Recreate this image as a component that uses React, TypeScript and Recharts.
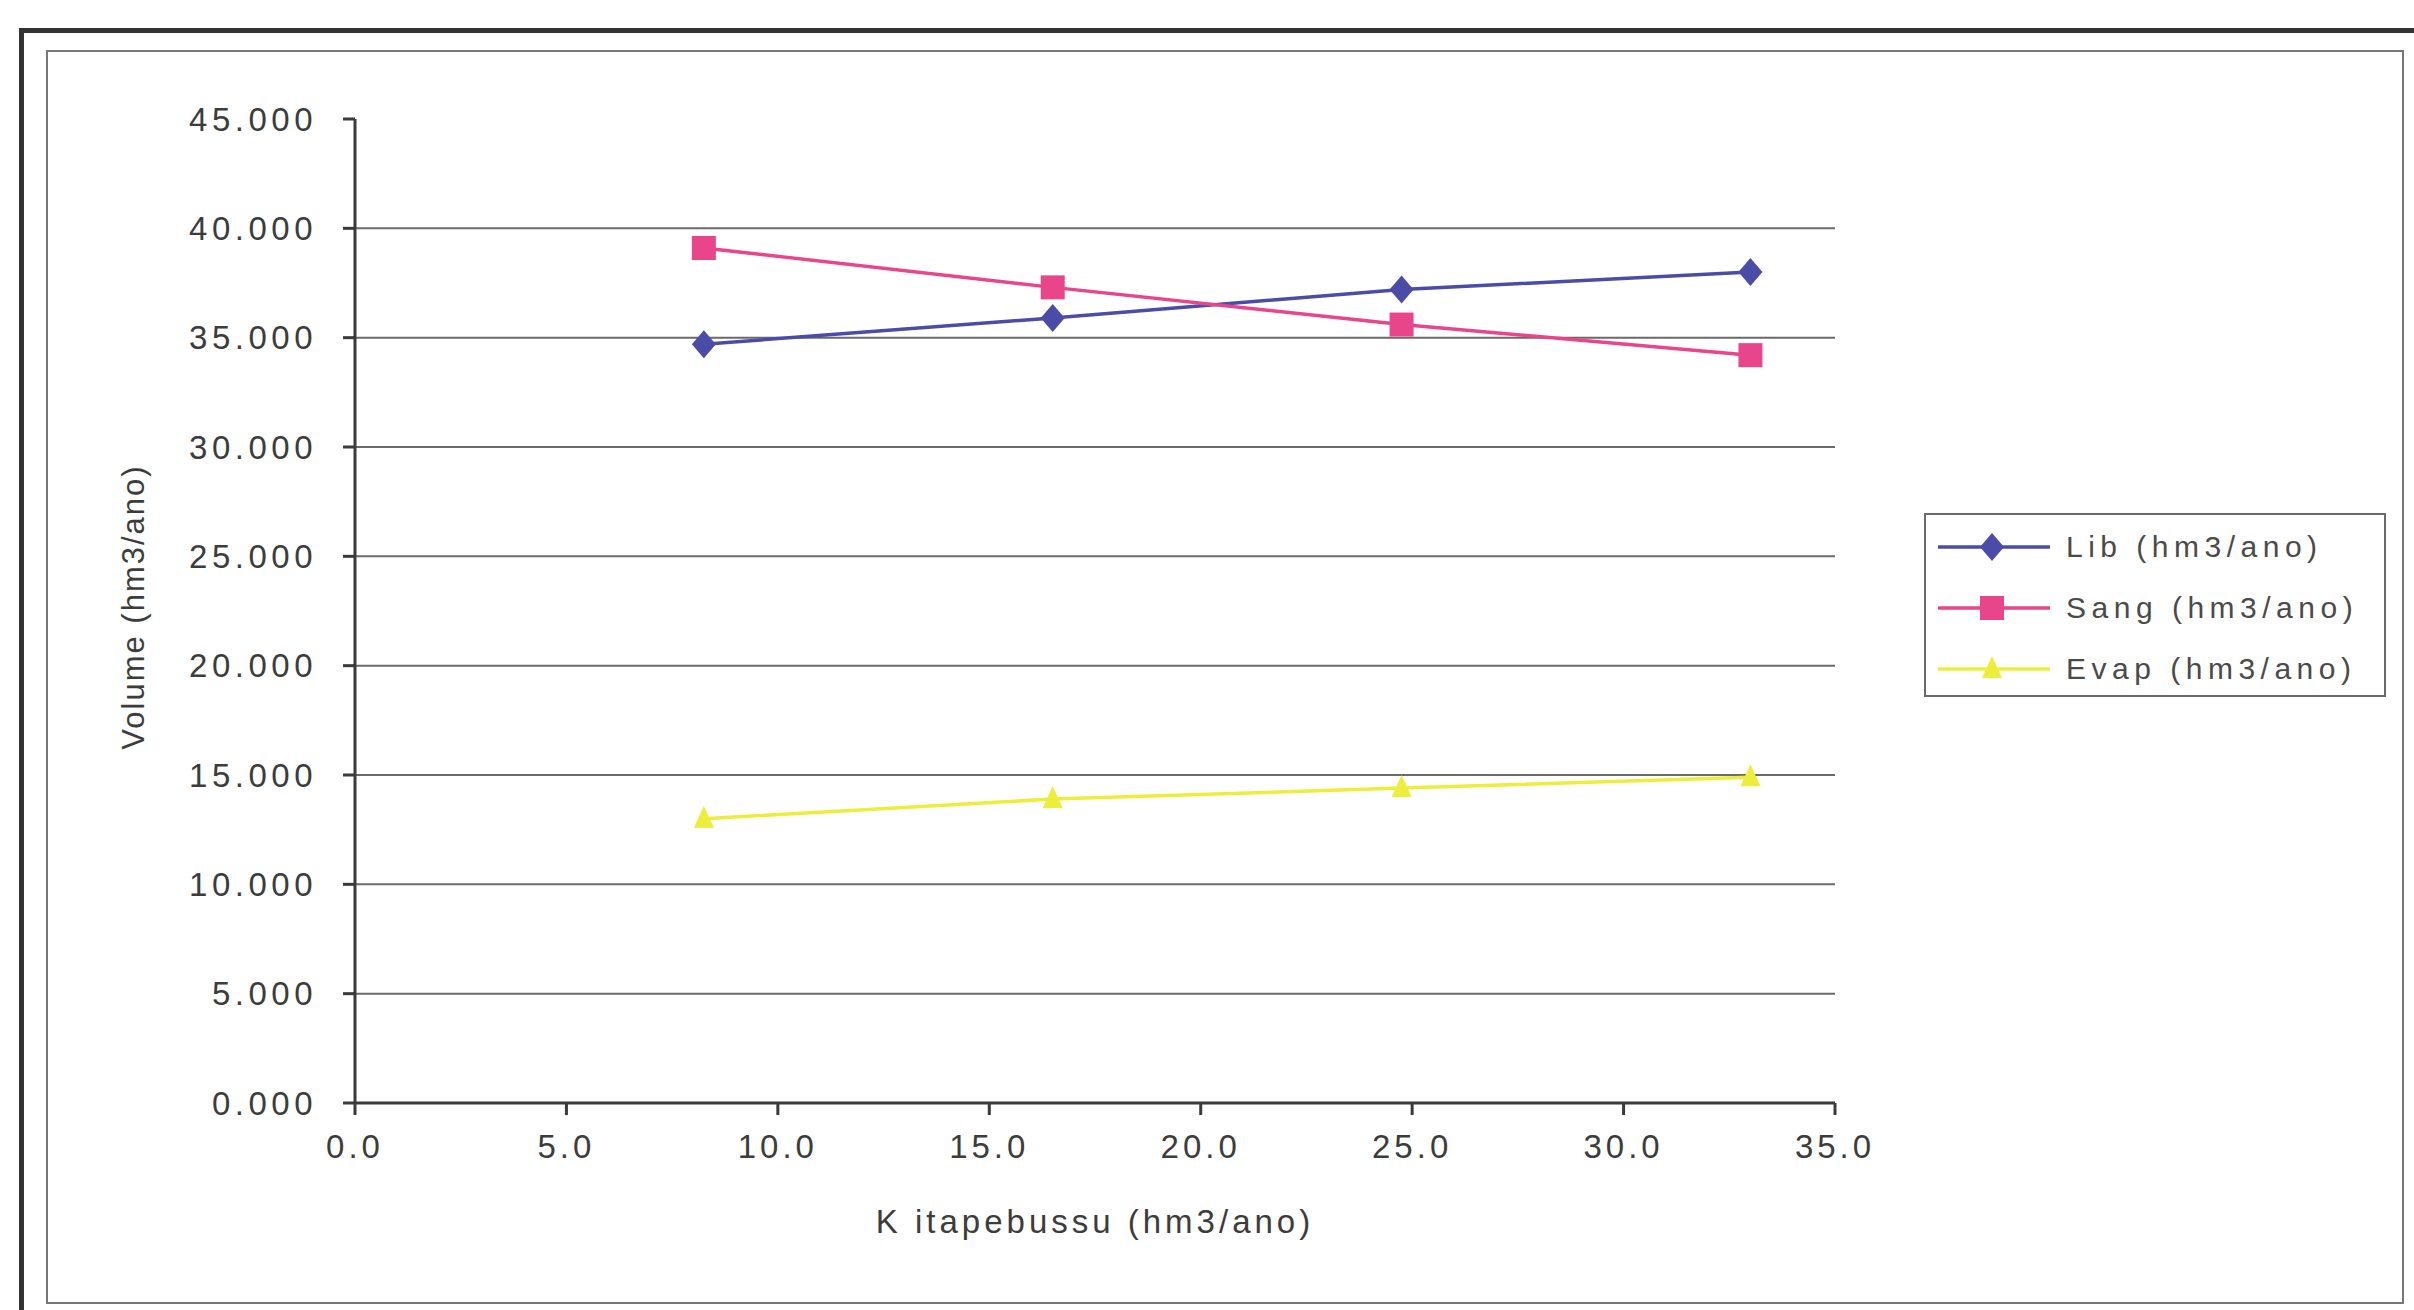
import { CartesianGrid, Label, Line, LineChart, XAxis, YAxis } from "recharts";

const kValues = [8.25, 16.5, 24.75, 33.0];
const libValues = [34700, 35900, 37200, 38000];
const sangValues = [39100, 37300, 35600, 34200];
const evapValues = [13000, 13900, 14400, 14900];

const xTicks = [0, 5, 10, 15, 20, 25, 30, 35];
const yTicks = [0, 5000, 10000, 15000, 20000, 25000, 30000, 35000, 40000, 45000];

const seriesNames = ["Lib (hm3/ano)", "Sang (hm3/ano)", "Evap (hm3/ano)"];
const seriesColors = ["#4b4ba8", "#e8458b", "#eded3c"];

const data = kValues.map((k, i) => ({
  k,
  lib: libValues[i],
  sang: sangValues[i],
  evap: evapValues[i],
}));

const FONT = "'Liberation Sans', Arial, sans-serif";
const TEXT = "#3c3c3c";

type Shape = "diamond" | "square" | "triangle";

function marker(shape: Shape, cx: number, cy: number, color: string, key?: string | number) {
  if (shape === "diamond") {
    return (
      <polygon key={key} points={`${cx},${cy - 14} ${cx + 12},${cy} ${cx},${cy + 14} ${cx - 12},${cy}`} fill={color} />
    );
  }
  if (shape === "square") {
    return <rect key={key} x={cx - 12} y={cy - 12} width={24} height={24} fill={color} />;
  }
  return <polygon key={key} points={`${cx},${cy - 13} ${cx + 10},${cy + 9} ${cx - 10},${cy + 9}`} fill={color} />;
}

const shapes: Shape[] = ["diamond", "square", "triangle"];
const keys = ["lib", "sang", "evap"];

function makeDot(shape: Shape, color: string) {
  return (p: any) => marker(shape, p.cx, p.cy, color, p.key ?? p.index);
}

function ChartLegend() {
  return (
    <div
      style={{
        position: "absolute",
        left: 1924,
        top: 513,
        width: 462,
        height: 184,
        border: "2px solid #6a6a6a",
        boxSizing: "border-box",
        background: "#fff",
      }}
    >
      {seriesNames.map((name, i) => (
        <div key={name} style={{ position: "absolute", left: 10, top: 14 + i * 61, height: 36, display: "flex", alignItems: "center" }}>
          <svg width={116} height={36}>
            <line x1={2} y1={18} x2={114} y2={18} stroke={seriesColors[i]} strokeWidth={3.5} />
            {marker(shapes[i], 56, 18, seriesColors[i])}
          </svg>
          <span style={{ fontFamily: FONT, fontSize: 30, letterSpacing: 5.5, color: "#4a4a4a", marginLeft: 14 }}>{name}</span>
        </div>
      ))}
    </div>
  );
}

export default function App() {
  return (
    <div style={{ position: "absolute", left: 0, top: 0, width: 2414, height: 1310, background: "#fff", overflow: "hidden" }}>
      {/* scanned page frames */}
      <div style={{ position: "absolute", left: 19, top: 28, width: 2414, height: 1300, borderTop: "5px solid #333", borderLeft: "5px solid #333" }} />
      <div style={{ position: "absolute", left: 46, top: 50, width: 2358, height: 1254, border: "2px solid #777", boxSizing: "border-box" }} />

      <div style={{ position: "absolute", left: 0, top: 0 }}>
        <LineChart width={2414} height={1310} data={data} margin={{ top: 119, right: 579, bottom: 87, left: 155 }}>
          <CartesianGrid
            horizontal
            vertical={false}
            stroke="#6a6a6a"
            strokeWidth={2}
            horizontalValues={yTicks.filter((v) => v > 0 && v < 45000)}
          />
          <XAxis
            dataKey="k"
            type="number"
            domain={[0, 35]}
            ticks={xTicks}
            tickFormatter={(v: number) => v.toFixed(1)}
            height={120}
            tickSize={12}
            tickMargin={20}
            stroke="#3a3a3a"
            strokeWidth={3}
            tick={{ fill: TEXT, fontSize: 33, fontFamily: FONT, letterSpacing: 4 }}
          >
            <Label
              content={() => (
                <text x={1095} y={1233} textAnchor="middle" fill={TEXT} fontSize={33} fontFamily={FONT} letterSpacing={4}>
                  K itapebussu (hm3/ano)
                </text>
              )}
            />
          </XAxis>
          <YAxis
            type="number"
            domain={[0, 45000]}
            ticks={yTicks}
            tickFormatter={(v: number) => (v / 1000).toFixed(3)}
            width={200}
            tickSize={12}
            tickMargin={26}
            stroke="#3a3a3a"
            strokeWidth={3}
            tick={{ fill: TEXT, fontSize: 33, fontFamily: FONT, letterSpacing: 4.5 }}
          >
            <Label
              content={() => (
                <text
                  x={133}
                  y={607}
                  transform="rotate(-90 133 607)"
                  textAnchor="middle"
                  dominantBaseline="central"
                  fill={TEXT}
                  fontSize={31}
                  fontFamily={FONT}
                  letterSpacing={2}
                >
                  Volume (hm3/ano)
                </text>
              )}
            />
          </YAxis>
          {keys.map((k, i) => (
            <Line
              key={k}
              dataKey={k}
              name={seriesNames[i]}
              stroke={seriesColors[i]}
              strokeWidth={3.5}
              dot={makeDot(shapes[i], seriesColors[i])}
              activeDot={false}
              isAnimationActive={false}
            />
          ))}
        </LineChart>
      </div>

      <ChartLegend />
    </div>
  );
}
